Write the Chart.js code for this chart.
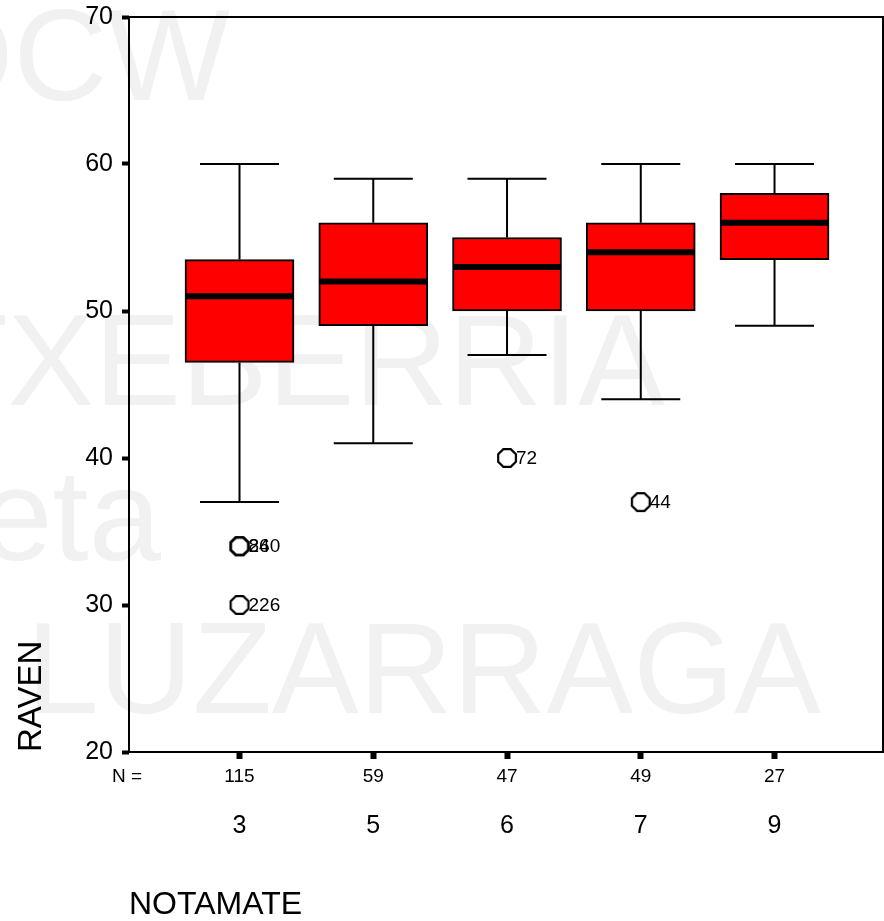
<!DOCTYPE html>
<html><head><meta charset="utf-8">
<script src="https://cdn.jsdelivr.net/npm/chart.js@4/dist/chart.umd.min.js"></script>
<style>html,body{margin:0;padding:0;background:#fff;}canvas{display:block;}</style>
</head><body>
<canvas id="c" width="884" height="921"></canvas>
<script>
// ---- data ----
const categories = ['3', '5', '6', '7', '9'];
const counts = [115, 59, 47, 49, 27];
const whiskerLow = [37, 41, 47, 44, 49];
const q1 = [46.5, 49, 50, 50, 53.5];
const medians = [51, 52, 53, 54, 56];
const q3 = [53.5, 56, 55, 56, 58];
const whiskerHigh = [60, 59, 59, 60, 60];
const outlierGroup = [0, 0, 0, 2, 3];
const outlierValue = [34, 34, 30, 40, 37];
const outlierId = ['86', '240', '226', '72', '44'];
const yTicks = [20, 30, 40, 50, 60, 70];

const FONT = "'Liberation Sans', Arial, Helvetica, sans-serif";
const XMIN = 0.1738, XMAX = 5.811;

// octagon marker
const oct = document.createElement('canvas');
oct.width = 24; oct.height = 24;
(function(){
  const g = oct.getContext('2d');
  g.strokeStyle = '#000'; g.lineWidth = 2.2;
  g.beginPath();
  for (let k = 0; k < 8; k++) {
    const a = Math.PI / 8 + k * Math.PI / 4;
    const px = 12 + 9.6 * Math.cos(a), py = 12 + 9.6 * Math.sin(a);
    if (k === 0) g.moveTo(px, py); else g.lineTo(px, py);
  }
  g.closePath(); g.stroke();
})();

const boxExtras = {
  id: 'boxExtras',
  beforeDraw(chart) {
    const ctx = chart.ctx;
    ctx.save();
    ctx.fillStyle = '#fff';
    ctx.fillRect(0, 0, chart.width, chart.height);
    ctx.fillStyle = '#f1f1f1';
    ctx.font = '130px ' + FONT;
    ctx.textBaseline = 'alphabetic';
    ctx.textAlign = 'right';
    ctx.fillText('OCW', 230, 100);
    ctx.fillText('TXEBERRIA', 665, 405);
    ctx.fillText('eta', 161, 560);
    ctx.fillText('LUZARRAGA', 821, 713);
    ctx.restore();
  },
  beforeDatasetsDraw(chart) {
    const ctx = chart.ctx, xs = chart.scales.x, ys = chart.scales.y;
    ctx.save();
    ctx.strokeStyle = '#000';
    ctx.lineWidth = 2;
    categories.forEach((c, i) => {
      const x = xs.getPixelForValue(i + 1);
      const yH = ys.getPixelForValue(whiskerHigh[i]);
      const yL = ys.getPixelForValue(whiskerLow[i]);
      const y3 = ys.getPixelForValue(q3[i]);
      const y1 = ys.getPixelForValue(q1[i]);
      ctx.beginPath();
      ctx.moveTo(x, yH); ctx.lineTo(x, y3);
      ctx.moveTo(x, y1); ctx.lineTo(x, yL);
      ctx.moveTo(x - 39.5, yH); ctx.lineTo(x + 39.5, yH);
      ctx.moveTo(x - 39.5, yL); ctx.lineTo(x + 39.5, yL);
      ctx.stroke();
    });
    ctx.restore();
  },
  afterDatasetsDraw(chart) {
    const ctx = chart.ctx, xs = chart.scales.x, ys = chart.scales.y, a = chart.chartArea;
    ctx.save();
    ctx.strokeStyle = '#000';
    ctx.lineWidth = 6;
    categories.forEach((c, i) => {
      const x = xs.getPixelForValue(i + 1);
      const ym = ys.getPixelForValue(medians[i]);
      ctx.beginPath();
      ctx.moveTo(x - 53.5, ym); ctx.lineTo(x + 53.5, ym);
      ctx.stroke();
    });
    // outlier labels
    ctx.fillStyle = '#000';
    ctx.font = '19px ' + FONT;
    ctx.textAlign = 'left';
    ctx.textBaseline = 'middle';
    outlierValue.forEach((v, k) => {
      const x = xs.getPixelForValue(outlierGroup[k] + 1);
      const y = ys.getPixelForValue(v);
      ctx.fillText(outlierId[k], x + 9, y + 1);
    });
    // frame
    ctx.lineWidth = 2;
    ctx.strokeRect(a.left, a.top, a.right - a.left, a.bottom - a.top);
    // N = label
    ctx.fillText('N =', 112, xs.top + 25);
    ctx.restore();
  }
};

new Chart(document.getElementById('c'), {
  type: 'bar',
  data: {
    datasets: [
      {
        type: 'bar',
        data: categories.map((c, i) => ({ x: i + 1, y: [q1[i], q3[i]] })),
        backgroundColor: '#ff0000',
        borderColor: '#000',
        borderWidth: 2,
        borderSkipped: false,
        barThickness: 109,
        xAxisID: 'x', yAxisID: 'y'
      },
      {
        type: 'scatter',
        data: outlierValue.map((v, k) => ({ x: outlierGroup[k] + 1, y: v })),
        pointStyle: oct,
        pointRadius: 10,
        xAxisID: 'x', yAxisID: 'y'
      }
    ]
  },
  options: {
    responsive: false,
    animation: false,
    devicePixelRatio: 1,
    layout: { autoPadding: false, padding: { top: 17, right: 1, left: 0, bottom: 0 } },
    plugins: { legend: { display: false }, tooltip: { enabled: false } },
    scales: {
      x: {
        type: 'linear', position: 'bottom', weight: 0, min: XMIN, max: XMAX, offset: false,
        afterBuildTicks: s => { s.ticks = categories.map((c, i) => ({ value: i + 1 })); },
        afterFit: s => { s.height = 40; s.paddingLeft = 0; s.paddingRight = 0; },
        grid: { display: true, offset: false, drawOnChartArea: false, drawTicks: true, tickLength: 7, tickWidth: 6, tickColor: '#000' },
        border: { display: false },
        ticks: { padding: 6, color: '#000', font: { family: FONT, size: 19 }, maxRotation: 0, autoSkip: false,
                 callback: v => String(counts[Math.round(v) - 1]) }
      },
      xc: {
        type: 'linear', position: 'bottom', weight: 1, min: XMIN, max: XMAX, offset: false,
        afterBuildTicks: s => { s.ticks = categories.map((c, i) => ({ value: i + 1 })); },
        afterFit: s => { s.height = 129; s.paddingLeft = 0; s.paddingRight = 0; },
        grid: { display: false },
        border: { display: false },
        ticks: { padding: 11, color: '#000', font: { family: FONT, size: 25 }, maxRotation: 0, autoSkip: false,
                 callback: v => categories[Math.round(v) - 1] },
        title: { display: true, text: 'NOTAMATE', align: 'start', color: '#000',
                 font: { family: FONT, size: 32, lineHeight: 1 }, padding: { top: 0, bottom: 0 } }
      },
      y: {
        type: 'linear', position: 'left', min: 20, max: 70,
        afterBuildTicks: s => { s.ticks = yTicks.map(v => ({ value: v })); },
        afterFit: s => { s.width = 129; s.paddingTop = 0; s.paddingBottom = 0; },
        grid: { display: true, drawOnChartArea: false, drawTicks: true, tickLength: 7, tickWidth: 4, tickColor: '#000' },
        border: { display: false },
        ticks: { padding: 9, color: '#000', font: { family: FONT, size: 25 } },
        title: { display: true, text: 'RAVEN', align: 'start', color: '#000',
                 font: { family: FONT, size: 33 }, padding: { top: 12, bottom: 0 } }
      }
    }
  },
  plugins: [boxExtras]
});
</script>
</body></html>
